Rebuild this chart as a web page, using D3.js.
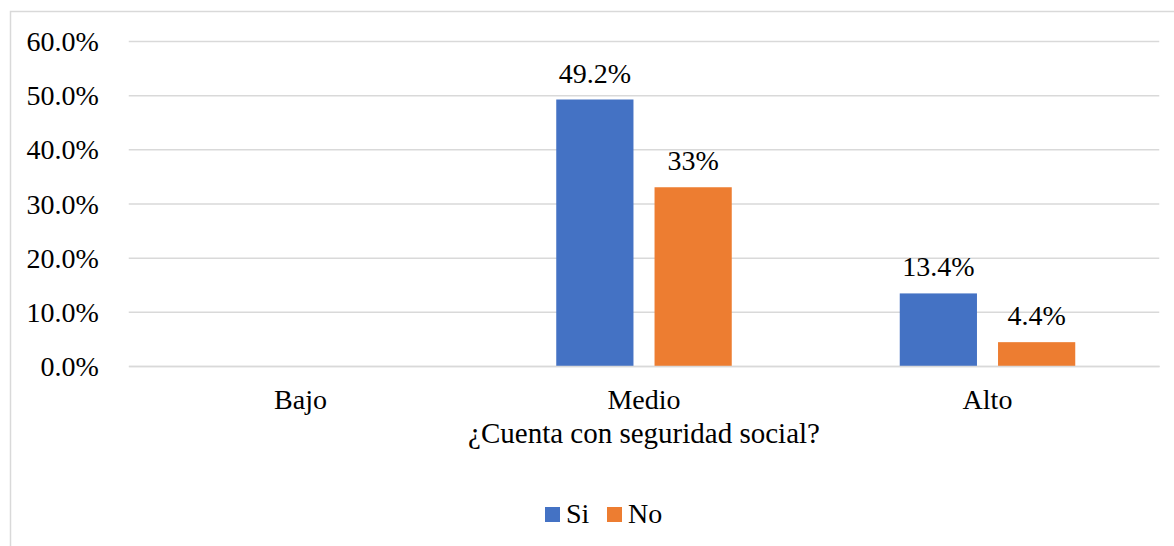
<!DOCTYPE html>
<html><head><meta charset="utf-8">
<script src="https://cdn.jsdelivr.net/npm/d3@7"></script>
<style>body{margin:0;background:#fff}svg{display:block}svg text{font-family:'Liberation Serif','Times New Roman',Times,Tinos,'DejaVu Serif',serif !important;fill:#000}</style>
</head><body>
<svg id="c" width="1174" height="546"></svg>
<script>
const categories = ["Bajo", "Medio", "Alto"];
const seriesNames = ["Si", "No"];
const siValues = [null, 49.2, 13.4];
const noValues = [null, 33.0, 4.4];
const siLabels = ["", "49.2%", "13.4%"];
const noLabels = ["", "33%", "4.4%"];
const yTicks = [0, 10, 20, 30, 40, 50, 60];
const colors = ["#4472C4", "#ED7D31"];

const svg = d3.select("#c");
const FS = 28;
svg.append("rect").attr("x", 10.5).attr("y", 11.5).attr("width", 1200).attr("height", 600)
  .attr("fill", "none").attr("stroke", "#d9d9d9").attr("stroke-width", 1.5);

const x0 = 128.75, x1 = 1159.25;
const y = d3.scaleLinear().domain([0, 60]).range([366, 41]);
const x = d3.scaleBand().domain(categories).range([x0, x1]).paddingInner(0).paddingOuter(0);
const xs = d3.scaleBand().domain(seriesNames).range([84, x.bandwidth() - 84]).paddingInner(21/98);

const yAxis = d3.axisLeft(y).tickValues(yTicks).tickSize(-(x1 - x0)).tickPadding(30)
  .tickFormat(d => d.toFixed(1) + "%");
const g = svg.append("g").attr("transform", `translate(${x0},0)`).call(yAxis);
g.attr("font-family", null);
g.select(".domain").remove();
g.selectAll(".tick line").attr("stroke", "#d9d9d9").attr("stroke-width", 1.5);
g.selectAll(".tick text").attr("font-size", FS).attr("fill", "#000").attr("dy", "0.34em");

const series = [siValues, noValues];
const labels = [siLabels, noLabels];
series.forEach((vals, si) => {
  categories.forEach((c, i) => {
    const v = vals[i];
    if (v == null) return;
    const bx = x(c) + xs(seriesNames[si]);
    svg.append("rect").attr("x", bx).attr("y", y(v)).attr("width", xs.bandwidth())
      .attr("height", y(0) - y(v)).attr("fill", colors[si]);
    svg.append("text").attr("x", bx + xs.bandwidth() / 2).attr("y", y(v) - 17)
      .attr("text-anchor", "middle").attr("font-size", FS).text(labels[si][i]);
  });
});

const xAxis = d3.axisBottom(x).tickSize(0).tickPadding(0);
const gx = svg.append("g").attr("transform", "translate(0,366)").call(xAxis);
gx.attr("font-family", null);
gx.select(".domain").attr("stroke", "#d9d9d9").attr("stroke-width", 1.5);
gx.selectAll(".tick text").attr("font-size", FS).attr("fill", "#000")
  .attr("dy", null).attr("y", 43);

svg.append("text").attr("x", 644).attr("y", 443).attr("text-anchor", "middle").attr("font-size", 29)
  .text("¿Cuenta con seguridad social?");

const leg = [{n: "Si", sx: 545, tx: 566}, {n: "No", sx: 607, tx: 628}];
leg.forEach((l, i) => {
  svg.append("rect").attr("x", l.sx).attr("y", 507).attr("width", 15).attr("height", 15).attr("fill", colors[i]);
  svg.append("text").attr("x", l.tx).attr("y", 523).attr("font-size", FS).text(l.n);
});
</script>
</body></html>
